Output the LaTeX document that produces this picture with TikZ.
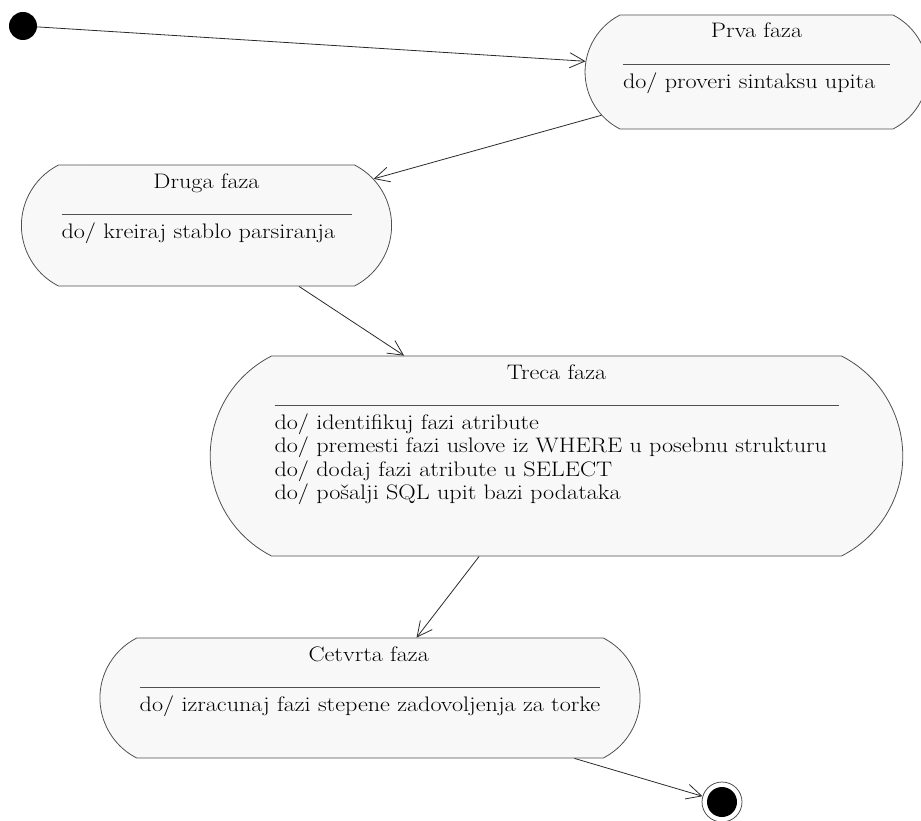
\documentclass[tikz,border=0pt]{standalone}
\usepackage{xcolor}
\usepackage{fontspec}
\usepackage{tikz}
\usetikzlibrary{arrows.meta,shapes.misc}
\newfontfamily\fazafont{Latin Modern Roman}[FakeStretch=1.15]
\definecolor{fazafill}{HTML}{F8F8F8}
\definecolor{fazaline}{HTML}{505050}
\definecolor{prelaz}{HTML}{2A2A2A}

% state body: rule width, height, title, activities
\newcommand{\fazabody}[4]{%
  \vbox to #2{\hsize=#1\offinterlineskip
    \hbox to #1{\hfil\vrule height 23pt depth 0pt width 0pt\smash{#3}\hfil}
    \kern 26pt
    {\color{fazaline}\hrule height .8pt}
    #4
    \vss}}
\newcommand{\akt}[1]{\hbox{\vrule height 23.5pt depth 0pt width 0pt\smash{#1}}}

\begin{document}
\begin{tikzpicture}[>={Straight Barb[length=15pt,width=15pt]},x=1pt,y=-1pt]
  \tikzstyle{faza}=[rounded rectangle,rounded rectangle arc length=126,draw=fazaline,fill=fazafill,line width=.8pt,inner xsep=3pt,inner ysep=0pt,font=\fazafont\fontsize{21}{23}\selectfont]
  \tikzstyle{pocetak}=[circle,fill=black,minimum size=28pt,inner sep=0pt]
  \tikzstyle{kraj}=[circle,draw=fazaline,fill=white,line width=.8pt,minimum size=40pt,inner sep=0pt,path picture={\fill[black] (path picture bounding box.center) circle (15pt);}]
  \tikzstyle{trans}=[->,draw=prelaz,line width=.8pt]
  \useasboundingbox (0,0) rectangle (921,821);
  \node[pocetak] (start) at (23,26) {};
  \node[faza] (prva) at (756.5,72) {\fazabody{267pt}{114pt}{Prva faza}{\akt{do/ proveri sintaksu upita}}};
  \node[faza] (druga) at (206.5,225.5) {\fazabody{290pt}{121pt}{Druga faza}{\akt{do/ kreiraj stablo parsiranja}}};
  \node[faza] (treca) at (556.5,456) {\fazabody{564pt}{200pt}{Treca faza}{%
    \akt{do/ identifikuj fazi atribute}
    \akt{do/ premesti fazi uslove iz WHERE u posebnu strukturu}
    \akt{do/ dodaj fazi atribute u SELECT}
    \akt{do/ pošalji SQL upit bazi podataka}}};
  \node[faza] (cetvrta) at (370,698) {\fazabody{458pt}{120pt}{Cetvrta faza}{\akt{do/ izracunaj fazi stepene zadovoljenja za torke}}};
  \node[kraj] (end) at (722,802) {};
  \draw[trans] (start) -- (prva);
  \draw[trans] (prva) -- (druga);
  \draw[trans] (druga) -- (treca);
  \draw[trans] (treca) -- (cetvrta);
  \draw[trans] (cetvrta) -- (end);
\end{tikzpicture}
\end{document}
